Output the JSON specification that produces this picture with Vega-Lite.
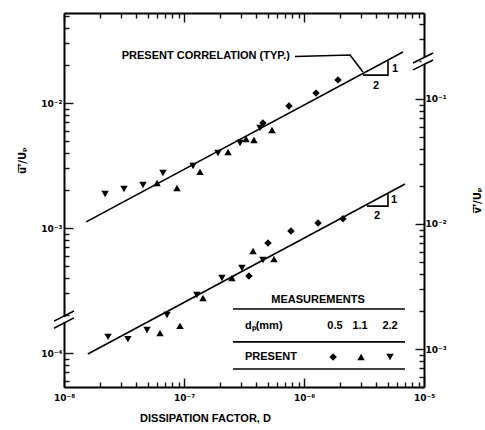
{
  "$schema": "https://vega.github.io/schema/vega-lite/v6.json",
  "width": 360,
  "height": 374,
  "autosize": {"type": "none"},
  "padding": {"left": 64, "top": 13, "right": 61, "bottom": 43},
  "background": "white",
  "config": {
    "view": {"stroke": null},
    "text": {"font": "Liberation Sans", "fontWeight": "bold", "fontSize": 11, "color": "black"}
  },
  "datasets": {
    "uPts": [
      {"dp": "2.2", "D": 2.20e-8, "v": 1.87e-3},
      {"dp": "2.2", "D": 3.16e-8, "v": 2.05e-3},
      {"dp": "2.2", "D": 4.55e-8, "v": 2.21e-3},
      {"dp": "2.2", "D": 6.68e-8, "v": 2.75e-3},
      {"dp": "2.2", "D": 1.19e-7, "v": 3.13e-3},
      {"dp": "2.2", "D": 1.92e-7, "v": 3.98e-3},
      {"dp": "2.2", "D": 2.93e-7, "v": 4.79e-3},
      {"dp": "2.2", "D": 4.30e-7, "v": 6.31e-3},
      {"dp": "1.1", "D": 5.96e-8, "v": 2.29e-3},
      {"dp": "1.1", "D": 8.74e-8, "v": 2.09e-3},
      {"dp": "1.1", "D": 1.36e-7, "v": 2.81e-3},
      {"dp": "1.1", "D": 2.33e-7, "v": 4.06e-3},
      {"dp": "1.1", "D": 3.29e-7, "v": 5.15e-3},
      {"dp": "1.1", "D": 3.83e-7, "v": 5.06e-3},
      {"dp": "1.1", "D": 5.41e-7, "v": 6.08e-3},
      {"dp": "0.5", "D": 4.55e-7, "v": 6.92e-3},
      {"dp": "0.5", "D": 7.50e-7, "v": 9.46e-3},
      {"dp": "0.5", "D": 1.26e-6, "v": 1.20e-2},
      {"dp": "0.5", "D": 1.92e-6, "v": 1.53e-2}
    ],
    "uLines": [
      {"g": "fit", "i": 0, "D": 1.53e-8, "v": 1.12e-3},
      {"g": "fit", "i": 1, "D": 6.68e-6, "v": 2.56e-2},
      {"g": "tri", "i": 0, "D": 3.10e-6, "v": 1.67e-2},
      {"g": "tri", "i": 1, "D": 5.01e-6, "v": 1.67e-2},
      {"g": "tri", "i": 2, "D": 5.01e-6, "v": 2.21e-2},
      {"g": "lead", "i": 0, "D": 8.41e-7, "v": 2.355e-2},
      {"g": "lead", "i": 1, "D": 2.42e-6, "v": 2.42e-2},
      {"g": "lead", "i": 2, "D": 3.10e-6, "v": 1.77e-2},
      {"g": "b1", "i": 0, "D": 8.25e-9, "v": 1.80e-4},
      {"g": "b1", "i": 1, "D": 1.21e-8, "v": 2.17e-4},
      {"g": "b2", "i": 0, "D": 8.25e-9, "v": 1.58e-4},
      {"g": "b2", "i": 1, "D": 1.21e-8, "v": 1.91e-4}
    ],
    "uGap": [{"D": 1e-8, "v": 1.94e-4, "v2": 1.77e-4}],
    "uTextR": [{"t": "PRESENT CORRELATION (TYP.)", "D": 7.64e-7, "v": 2.38e-2}],
    "uTextC": [
      {"t": "1", "D": 5.73e-6, "v": 1.87e-2},
      {"t": "2", "D": 3.98e-6, "v": 1.37e-2}
    ],
    "vPts": [
      {"dp": "0.5", "D": 2.11e-6, "v": 1.10e-2},
      {"dp": "0.5", "D": 1.31e-6, "v": 1.02e-2},
      {"dp": "0.5", "D": 7.79e-7, "v": 8.79e-3},
      {"dp": "0.5", "D": 5.01e-7, "v": 7.05e-3},
      {"dp": "0.5", "D": 3.48e-7, "v": 3.84e-3},
      {"dp": "1.1", "D": 3.76e-7, "v": 6.08e-3},
      {"dp": "1.1", "D": 5.62e-7, "v": 5.25e-3},
      {"dp": "1.1", "D": 2.51e-7, "v": 3.70e-3},
      {"dp": "1.1", "D": 1.44e-7, "v": 2.56e-3},
      {"dp": "1.1", "D": 9.26e-8, "v": 1.53e-3},
      {"dp": "1.1", "D": 6.31e-8, "v": 1.34e-3},
      {"dp": "2.2", "D": 4.55e-7, "v": 5.15e-3},
      {"dp": "2.2", "D": 3.04e-7, "v": 4.45e-3},
      {"dp": "2.2", "D": 2.07e-7, "v": 3.70e-3},
      {"dp": "2.2", "D": 1.28e-7, "v": 2.70e-3},
      {"dp": "2.2", "D": 7.22e-8, "v": 1.87e-3},
      {"dp": "2.2", "D": 4.92e-8, "v": 1.42e-3},
      {"dp": "2.2", "D": 3.41e-8, "v": 1.20e-3},
      {"dp": "2.2", "D": 2.33e-8, "v": 1.25e-3}
    ],
    "vLegSym": [
      {"dp": "0.5", "D": 1.75e-6, "v": 8.63e-4},
      {"dp": "1.1", "D": 2.99e-6, "v": 8.63e-4},
      {"dp": "2.2", "D": 5.21e-6, "v": 8.63e-4}
    ],
    "vLines": [
      {"g": "fit", "i": 0, "D": 1.58e-8, "v": 9.12e-4},
      {"g": "fit", "i": 1, "D": 6.95e-6, "v": 2.09e-2},
      {"g": "tri", "i": 0, "D": 3.35e-6, "v": 1.39e-2},
      {"g": "tri", "i": 1, "D": 5.01e-6, "v": 1.39e-2},
      {"g": "tri", "i": 2, "D": 5.01e-6, "v": 1.77e-2},
      {"g": "r1", "i": 0, "D": 2.56e-7, "v": 2.09e-3},
      {"g": "r1", "i": 1, "D": 6.95e-6, "v": 2.09e-3},
      {"g": "r2", "i": 0, "D": 2.56e-7, "v": 1.14e-3},
      {"g": "r2", "i": 1, "D": 6.95e-6, "v": 1.14e-3},
      {"g": "r3", "i": 0, "D": 2.56e-7, "v": 6.92e-4},
      {"g": "r3", "i": 1, "D": 6.95e-6, "v": 6.92e-4},
      {"g": "b1", "i": 0, "D": 8.10e-6, "v": 0.194},
      {"g": "b1", "i": 1, "D": 1.19e-5, "v": 0.233},
      {"g": "b2", "i": 0, "D": 8.10e-6, "v": 0.171},
      {"g": "b2", "i": 1, "D": 1.19e-5, "v": 0.205}
    ],
    "vGap": [{"D": 1e-5, "v": 0.213, "v2": 0.191}],
    "vTextC": [
      {"t": "1", "D": 5.62e-6, "v": 1.56e-2},
      {"t": "2", "D": 4.06e-6, "v": 1.16e-2},
      {"t": "MEASUREMENTS", "D": 1.31e-6, "v": 2.47e-3},
      {"t": "0.5", "D": 1.81e-6, "v": 1.53e-3},
      {"t": "1.1", "D": 2.93e-6, "v": 1.53e-3},
      {"t": "2.2", "D": 5.21e-6, "v": 1.53e-3}
    ],
    "vTextL": [
      {"t": "dₚ(mm)", "D": 3.22e-7, "v": 1.53e-3},
      {"t": "PRESENT", "D": 3.22e-7, "v": 8.63e-4}
    ]
  },
  "layer": [
    {
      "encoding": {
        "x": {
          "field": "D", "type": "quantitative",
          "scale": {"type": "log", "domain": [1e-8, 1e-5], "nice": false},
          "axis": {
            "orient": "bottom",
            "grid": true, "gridOpacity": 0,
            "domainColor": "#000000", "domainWidth": 2,
            "ticks": true, "tickColor": "#111111", "tickWidth": 1.4,
            "values": [1e-8,2e-8,3e-8,4e-8,5e-8,6e-8,7e-8,8e-8,9e-8,1e-7,2e-7,3e-7,4e-7,5e-7,6e-7,7e-7,8e-7,9e-7,1e-6,2e-6,3e-6,4e-6,5e-6,6e-6,7e-6,8e-6,9e-6,1e-5],
            "labelExpr": "abs(log(datum.value)/LN10 - round(log(datum.value)/LN10)) < 0.001 ? '10⁻' + ['⁰','¹','²','³','⁴','⁵','⁶','⁷','⁸','⁹'][round(-log(datum.value)/LN10)] : ''",
            "tickSize": {"condition": {"test": "abs(log(datum.value)/LN10 - round(log(datum.value)/LN10)) < 0.001", "value": -9}, "value": -5},
            "labelFont": "DejaVu Sans", "labelFontWeight": "bold", "labelFontSize": 9, "labelColor": "#000000",
            "labelOverlap": false, "labelFlush": false,
            "labelPadding": 15,
            "title": "DISSIPATION FACTOR, D",
            "titleFont": "Liberation Sans", "titleFontWeight": "bold", "titleColor": "#000000",
            "titleFontSize": 11,
            "titleX": 141,
            "titleY": 31,
            "titleAlign": "center",
            "titleBaseline": "middle"
          }
        },
        "y": {
          "field": "v", "type": "quantitative",
          "scale": {"type": "log", "domain": [5.346e-5, 0.05248], "nice": false},
          "axis": {
            "orient": "left",
            "grid": true, "gridOpacity": 0,
            "domainColor": "#000000", "domainWidth": 2,
            "ticks": true, "tickColor": "#111111", "tickWidth": 1.4,
            "values": [6e-5,7e-5,8e-5,9e-5,1e-4,2e-4,3e-4,4e-4,5e-4,6e-4,7e-4,8e-4,9e-4,1e-3,2e-3,3e-3,4e-3,5e-3,6e-3,7e-3,8e-3,9e-3,1e-2,2e-2,3e-2,4e-2,5e-2],
            "labelExpr": "abs(log(datum.value)/LN10 - round(log(datum.value)/LN10)) < 0.001 ? '10⁻' + ['⁰','¹','²','³','⁴','⁵','⁶','⁷','⁸','⁹'][round(-log(datum.value)/LN10)] : ''",
            "tickSize": {"condition": {"test": "abs(log(datum.value)/LN10 - round(log(datum.value)/LN10)) < 0.001", "value": -9}, "value": -5},
            "labelFont": "DejaVu Sans", "labelFontWeight": "bold", "labelFontSize": 9, "labelColor": "#000000",
            "labelOverlap": false,
            "labelPadding": 11,
            "title": "u̅'̅/Uₚ",
            "titleFont": "DejaVu Sans", "titleFontWeight": "bold", "titleColor": "#000000",
            "titleFontSize": 10,
            "titleAngle": 270,
            "titleX": -42,
            "titleY": 147,
            "titleAlign": "center",
            "titleBaseline": "middle"
          }
        }
      },
      "layer": [
        {
          "data": {"name": "uGap"},
          "mark": {"type": "rule", "color": "white", "strokeWidth": 5},
          "encoding": {"y2": {"field": "v2"}}
        },
        {
          "data": {"name": "uLines"},
          "mark": {"type": "line", "color": "black", "strokeWidth": 1.6},
          "encoding": {"detail": {"field": "g"}, "order": {"field": "i"}}
        },
        {
          "data": {"name": "uPts"},
          "mark": {"type": "point", "filled": true, "color": "black", "opacity": 1, "size": 55},
          "encoding": {
            "shape": {"field": "dp", "type": "nominal", "scale": {"domain": ["0.5", "1.1", "2.2"], "range": ["diamond", "triangle-up", "triangle-down"]}, "legend": null}
          }
        },
        {
          "data": {"name": "uTextR"},
          "mark": {"type": "text", "align": "right", "baseline": "middle"},
          "encoding": {"text": {"field": "t"}}
        },
        {
          "data": {"name": "uTextC"},
          "mark": {"type": "text", "align": "center", "baseline": "middle"},
          "encoding": {"text": {"field": "t"}}
        }
      ]
    },
    {
      "encoding": {
        "x": {
          "field": "D", "type": "quantitative",
          "scale": {"type": "log", "domain": [1e-8, 1e-5], "nice": false},
          "axis": {
            "orient": "top",
            "grid": true, "gridOpacity": 0,
            "domainColor": "#000000", "domainWidth": 2,
            "ticks": true, "tickColor": "#111111", "tickWidth": 1.4,
            "values": [1e-8,2e-8,3e-8,4e-8,5e-8,6e-8,7e-8,8e-8,9e-8,1e-7,2e-7,3e-7,4e-7,5e-7,6e-7,7e-7,8e-7,9e-7,1e-6,2e-6,3e-6,4e-6,5e-6,6e-6,7e-6,8e-6,9e-6,1e-5],
            "labels": false,
            "tickSize": {"condition": {"test": "abs(log(datum.value)/LN10 - round(log(datum.value)/LN10)) < 0.001", "value": -9}, "value": -5},
            "title": ""
          }
        },
        "y": {
          "field": "v", "type": "quantitative",
          "scale": {"type": "log", "domain": [4.966e-4, 0.4875], "nice": false},
          "axis": {
            "orient": "right",
            "grid": true, "gridOpacity": 0,
            "domainColor": "#000000", "domainWidth": 2,
            "ticks": true, "tickColor": "#111111", "tickWidth": 1.4,
            "values": [5e-4,6e-4,7e-4,8e-4,9e-4,1e-3,2e-3,3e-3,4e-3,5e-3,6e-3,7e-3,8e-3,9e-3,1e-2,2e-2,3e-2,4e-2,5e-2,6e-2,7e-2,8e-2,9e-2,1e-1,2e-1,3e-1,4e-1],
            "labelExpr": "abs(log(datum.value)/LN10 - round(log(datum.value)/LN10)) < 0.001 ? '10⁻' + ['⁰','¹','²','³','⁴','⁵','⁶','⁷','⁸','⁹'][round(-log(datum.value)/LN10)] : ''",
            "tickSize": {"condition": {"test": "abs(log(datum.value)/LN10 - round(log(datum.value)/LN10)) < 0.001", "value": -9}, "value": -5},
            "labelFont": "DejaVu Sans", "labelFontWeight": "bold", "labelFontSize": 9, "labelColor": "#000000",
            "labelOverlap": false,
            "labelPadding": 10,
            "title": "v̅'̅/Uₚ",
            "titleFont": "DejaVu Sans", "titleFontWeight": "bold", "titleColor": "#000000",
            "titleFontSize": 10,
            "titleAngle": 270,
            "titleX": 53,
            "titleY": 187,
            "titleAlign": "center",
            "titleBaseline": "middle"
          }
        }
      },
      "layer": [
        {
          "data": {"name": "vGap"},
          "mark": {"type": "rule", "color": "white", "strokeWidth": 5},
          "encoding": {"y2": {"field": "v2"}}
        },
        {
          "data": {"name": "vLines"},
          "mark": {"type": "line", "color": "black", "strokeWidth": 1.6},
          "encoding": {"detail": {"field": "g"}, "order": {"field": "i"}}
        },
        {
          "data": {"name": "vPts"},
          "mark": {"type": "point", "filled": true, "color": "black", "opacity": 1, "size": 55},
          "encoding": {
            "shape": {"field": "dp", "type": "nominal", "scale": {"domain": ["0.5", "1.1", "2.2"], "range": ["diamond", "triangle-up", "triangle-down"]}, "legend": null}
          }
        },
        {
          "data": {"name": "vLegSym"},
          "mark": {"type": "point", "filled": true, "color": "black", "opacity": 1, "size": 55},
          "encoding": {
            "shape": {"field": "dp", "type": "nominal", "scale": {"domain": ["0.5", "1.1", "2.2"], "range": ["diamond", "triangle-up", "triangle-down"]}, "legend": null}
          }
        },
        {
          "data": {"name": "vTextC"},
          "mark": {"type": "text", "align": "center", "baseline": "middle"},
          "encoding": {"text": {"field": "t"}}
        },
        {
          "data": {"name": "vTextL"},
          "mark": {"type": "text", "align": "left", "baseline": "middle"},
          "encoding": {"text": {"field": "t"}}
        }
      ]
    }
  ],
  "resolve": {"scale": {"y": "independent"}, "axis": {"x": "independent"}}
}
